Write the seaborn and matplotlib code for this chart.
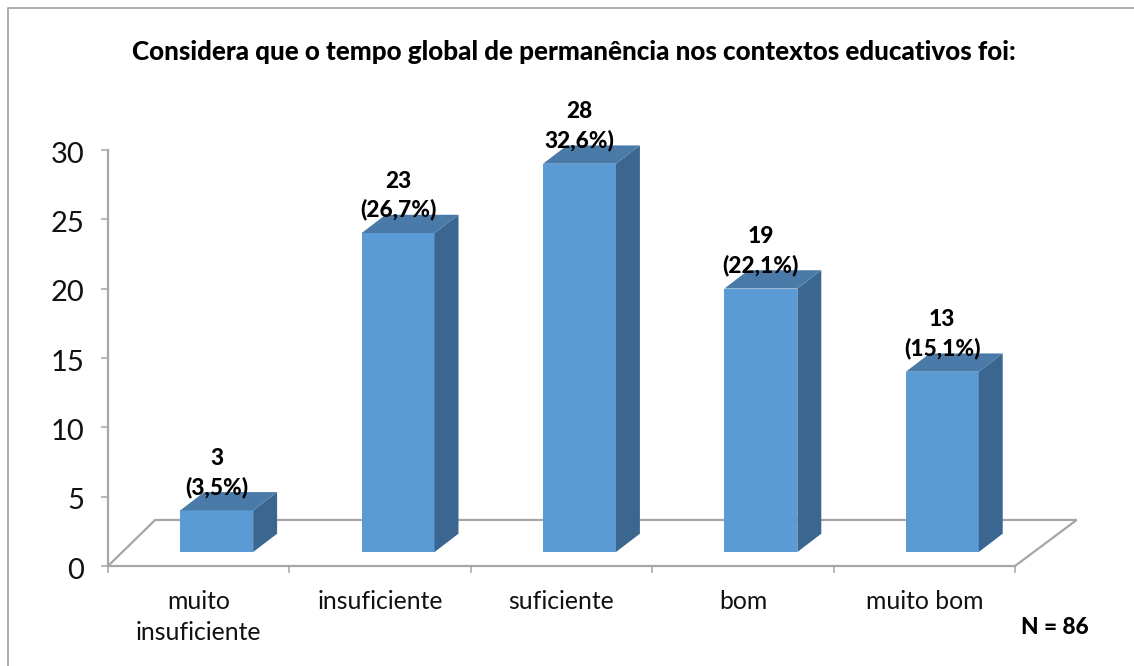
import pandas as pd
import matplotlib
matplotlib.use('Agg')
import matplotlib.pyplot as plt
import seaborn as sns
from matplotlib.lines import Line2D
from matplotlib.patches import Polygon
from matplotlib.transforms import ScaledTranslation

categorias = ['muito\ninsuficiente', 'insuficiente', 'suficiente', 'bom', 'muito bom']
valores = [3, 23, 28, 19, 13]
rotulos = ['(3,5%)', '(26,7%)', '32,6%)', '(22,1%)', '(15,1%)']
y_ticks = [0, 5, 10, 15, 20, 25, 30]
titulo = 'Considera que o tempo global de permanência nos contextos educativos foi:'

W, H = 1134, 666
CINZA = '#A6A6A6'

sns.set_style('white')
plt.rcParams['font.family'] = ['Lato', 'DejaVu Sans']

df = pd.DataFrame({'categoria': categorias, 'n': valores})

fig = plt.figure(figsize=(W / 100, H / 100), dpi=100)


def caixa(x0, x1, y_top, y_base):
    return [x0 / W, 1 - y_base / H, (x1 - x0) / W, (y_base - y_top) / H]


# eixo com as marcas e o chao, as barras ficam num segundo eixo deslocado
ax = fig.add_axes(caixa(108, 1015, 150, 566))
ax.set_xlim(-0.5, 4.5)
ax.set_ylim(0, 30)
ax.set_yticks(y_ticks)
ax.set_xticks([-0.5, 0.5, 1.5, 2.5, 3.5, 4.5])
ax.set_xticklabels([])
ax.set_xticks(range(5), labels=categorias, minor=True)
ax.tick_params(axis='y', length=5, width=1.1, color=CINZA, labelsize=21, pad=12, labelcolor='#111111', left=True)
ax.tick_params(axis='x', which='major', length=5, width=1.1, color=CINZA, bottom=True)
ax.tick_params(axis='x', which='minor', length=0, labelsize=17.8, pad=17.5, labelcolor='#111111')
for lab in ax.get_xminorticklabels():
    lab.set_linespacing(1.4)
for lab in ax.get_yticklabels():
    lab.set_transform(lab.get_transform() + ScaledTranslation(0, -1.5 / 72, fig.dpi_scale_trans))
for lado in ['top', 'right']:
    ax.spines[lado].set_visible(False)
for lado in ['left', 'bottom']:
    ax.spines[lado].set_color(CINZA)
    ax.spines[lado].set_linewidth(1.6)
ax.add_patch(Polygon([(-0.5, 0), (-0.24, 3.32), (4.84, 3.32), (4.5, 0)], closed=False,
                     fill=False, edgecolor=CINZA, linewidth=1.6, clip_on=False))

ax2 = fig.add_axes(caixa(126, 1033, 136, 552))
ax2.patch.set_alpha(0)
sns.barplot(data=df, x='categoria', y='n', color='#5B9BD5', saturation=1, width=0.402, linewidth=0, ax=ax2)
ax2.set_xlim(-0.5, 4.5)
ax2.set_ylim(0, 30)
ax2.axis('off')

dx, dy = 0.132, 1.32
for barra, v, r in zip(list(ax2.patches), valores, rotulos):
    x0 = barra.get_x()
    x1 = x0 + barra.get_width()
    h = barra.get_height()
    ax2.add_patch(Polygon([(x1, 0), (x1 + dx, dy), (x1 + dx, h + dy), (x1, h)],
                          facecolor='#3A668F', edgecolor='none', clip_on=False))
    ax2.add_patch(Polygon([(x0, h), (x0 + dx, h + dy), (x1 + dx, h + dy), (x1, h)],
                          facecolor='#4A7BA8', edgecolor='none', clip_on=False))
    ax2.annotate(f'{v}\n{r}', (x0 + barra.get_width() / 2, h), xytext=(0, 9), textcoords='offset points',
                 ha='center', va='bottom', fontsize=16.3, fontweight=900, color='black',
                 linespacing=1.4, annotation_clip=False, zorder=5)

fig.text(574 / W, 1 - 52 / H, titulo, ha='center', va='center', fontsize=18.75, fontweight=900, color='black')
fig.text(1055 / W, 1 - 627 / H, 'N = 86', ha='center', va='center', fontsize=16.3, fontweight=900, color='black')

# moldura do grafico
fig.add_artist(Line2D([8 / W, 8 / W, 1], [0, 1 - 8 / H, 1 - 8 / H], color=CINZA, linewidth=1.3))

fig.savefig('out.png', dpi=100)
